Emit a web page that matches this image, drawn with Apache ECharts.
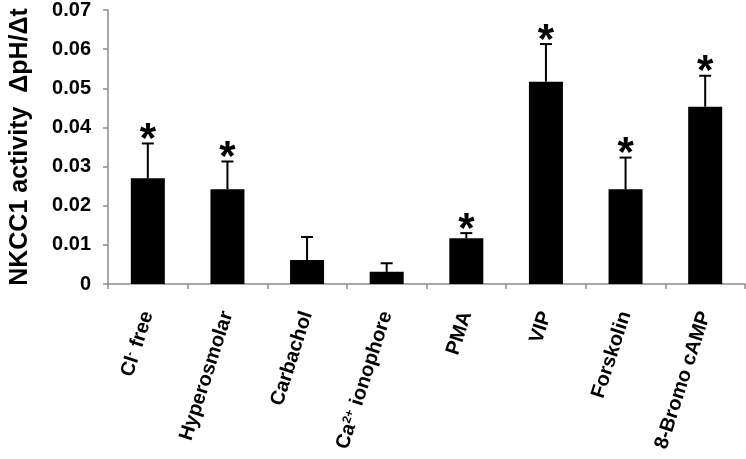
<!DOCTYPE html>
<html>
<head>
<meta charset="utf-8">
<script src="https://cdn.jsdelivr.net/npm/echarts@6/dist/echarts.min.js"></script>
<style>
  html, body { margin: 0; padding: 0; background: #fff; }
  #chart { width: 746px; height: 459px; }
</style>
</head>
<body>
<div id="chart"></div>
<script>
// ---- data ----
const categories = ['Cl- free', 'Hyperosmolar', 'Carbachol', 'Ca2+ ionophore', 'PMA', 'VIP', 'Forskolin', '8-Bromo cAMP'];
const meanValues = [0.0270, 0.0242, 0.0061, 0.0031, 0.0117, 0.0517, 0.0242, 0.0453];
const errorValues = [0.0089, 0.0071, 0.0059, 0.0022, 0.0013, 0.0096, 0.0081, 0.0079];
const significant = [true, true, false, false, true, true, true, true];
const yTickLabels = ['0', '0.01', '0.02', '0.03', '0.04', '0.05', '0.06', '0.07'];
const yTitle = 'NKCC1 activity  \u0394pH/\u0394t';

const FONT = 'Liberation Sans, Arial, sans-serif';
const labelRich = {
  n: { fontFamily: FONT, fontWeight: 'bold', fontSize: 20, color: '#000' },
  s: { fontFamily: FONT, fontWeight: 'bold', fontSize: 12, color: '#000', verticalAlign: 'top', padding: [0, 1, 0, 0] }
};
function formatCategory(c) {
  if (c === 'Cl- free') return '{n|Cl}{s|-}{n| free}';
  if (c === 'Ca2+ ionophore') return '{n|Ca}{s|2+}{n| ionophore}';
  return '{n|' + c + '}';
}

const chart = echarts.init(document.getElementById('chart'));
const axisGray = '#8c8c8c';
chart.setOption({
  animation: false,
  backgroundColor: '#fff',
  grid: { left: 93, right: 1, top: 9, bottom: 175 },
  xAxis: {
    type: 'category',
    data: categories,
    axisLine: { lineStyle: { color: axisGray, width: 1.5 } },
    axisTick: { show: true, length: 5, lineStyle: { color: axisGray, width: 1.5 } },
    axisLabel: {
      interval: 0,
      rotate: 72,
      margin: 28,
      formatter: formatCategory,
      rich: labelRich
    }
  },
  yAxis: {
    type: 'value',
    min: 0,
    max: 0.07,
    interval: 0.01,
    name: yTitle,
    nameLocation: 'middle',
    nameGap: 75,
    nameRotate: 90,
    nameTextStyle: { fontFamily: FONT, fontWeight: 'bold', fontSize: 25, color: '#000' },
    axisLine: { show: true, lineStyle: { color: axisGray, width: 1.5 } },
    axisTick: { show: true, length: 5, lineStyle: { color: axisGray, width: 1.5 } },
    splitLine: { show: false },
    axisLabel: {
      margin: 17,
      fontFamily: FONT,
      fontWeight: 'bold',
      fontSize: 20,
      color: '#000',
      formatter: function (v) { return yTickLabels[Math.round(v * 100)]; }
    }
  },
  series: [
    {
      type: 'bar',
      data: meanValues,
      barWidth: 34,
      itemStyle: { color: '#000' }
    },
    {
      type: 'custom',
      data: meanValues.map((m, i) => [i, m, m + errorValues[i], significant[i] ? 1 : 0]),
      renderItem: function (params, api) {
        const base = api.coord([api.value(0), api.value(1)]);
        const top = api.coord([api.value(0), api.value(2)]);
        const capHalf = 6;
        const children = [
          { type: 'line', shape: { x1: base[0], y1: base[1], x2: top[0], y2: top[1] }, style: { stroke: '#000', lineWidth: 2 } },
          { type: 'line', shape: { x1: top[0] - capHalf, y1: top[1], x2: top[0] + capHalf, y2: top[1] }, style: { stroke: '#000', lineWidth: 2 } }
        ];
        if (api.value(3) === 1) {
          children.push({
            type: 'text',
            style: {
              text: '*',
              x: top[0],
              y: top[1] - 3,
              align: 'center',
              verticalAlign: 'middle',
              fontFamily: FONT,
              fontWeight: 'bold',
              fontSize: 42,
              fill: '#000'
            }
          });
        }
        return { type: 'group', children: children };
      },
      z: 3
    }
  ]
});
</script>
</body>
</html>
